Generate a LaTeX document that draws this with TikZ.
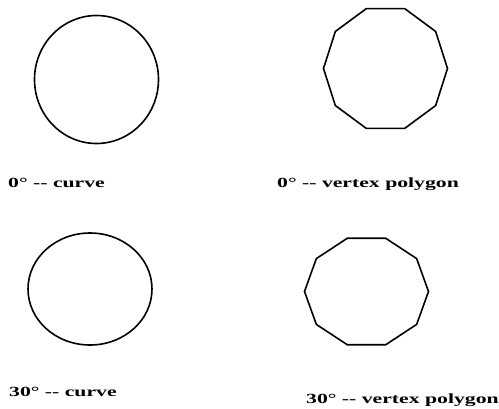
\documentclass[tikz,border=0pt]{standalone}
\usepackage{fontspec}
\usetikzlibrary{calc}
\newfontfamily\labfont{Liberation Serif}[FakeStretch=1.55]
\begin{document}
\begin{tikzpicture}[x=1pt,y=-1pt,
  shapeline/.style={line width=1.6pt,black},
  lab/.style={anchor=base west,inner sep=0pt,font=\labfont\bfseries\fontsize{14}{16}\selectfont}]
\useasboundingbox (0,0) rectangle (499,408);
% top-left circle
\coordinate (c1) at (96.5,79.5);
\draw[shapeline] (c1) ellipse [x radius=62,y radius=64];
% top-right decagon
\coordinate (p1) at (385.5,68.5);
\draw[shapeline] ($(p1)+(0:62 and 63)$) \foreach \a in {36,72,...,324} { -- ($(p1)+(\a:62 and 63)$) } -- cycle;
% bottom-left ellipse
\coordinate (e1) at (90,289);
\draw[shapeline] (e1) ellipse [x radius=62,y radius=56];
% bottom-right decagon
\coordinate (p2) at (366.5,291.5);
\draw[shapeline] ($(p2)+(0:62 and 56)$) \foreach \a in {36,72,...,324} { -- ($(p2)+(\a:62 and 56)$) } -- cycle;
% labels
\node[lab] (l1) at (8,187) {0° -{}- curve};
\node[lab] (l2) at (277,187) {0° -{}- vertex polygon};
\node[lab] (l3) at (9,396) {30° -{}- curve};
\node[lab] (l4) at (306,403) {30° -{}- vertex polygon};
\end{tikzpicture}
\end{document}
